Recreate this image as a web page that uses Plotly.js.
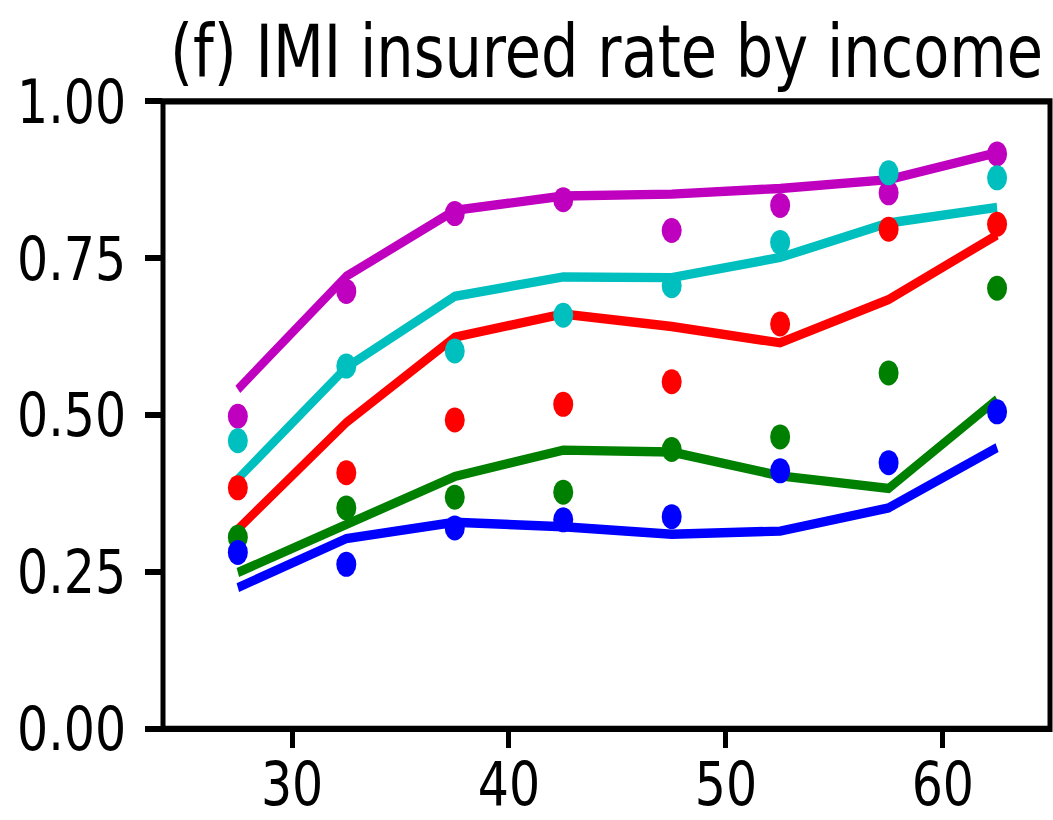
<!DOCTYPE html>
<html>
<head>
<meta charset="utf-8">
<script src="https://cdn.plot.ly/plotly-3.0.1.min.js"></script>
<style>
  html, body { margin: 0; padding: 0; background: #ffffff; overflow: hidden; width: 1053px; height: 820px; }
  #wrap { width: 1053px; height: 656px; transform: scale(1, 1.25); transform-origin: 0 0; }
  #chart { width: 1053px; height: 656px; }
</style>
</head>
<body>
<div id="wrap"><div id="chart"></div></div>
<script>
// Income bins (x)
const incomeBins = [27.5, 32.5, 37.5, 42.5, 47.5, 52.5, 57.5, 62.5];

// Model (lines)
const modelBlue    = [0.225, 0.303, 0.329, 0.322, 0.310, 0.315, 0.352, 0.448];
const modelGreen   = [0.249, 0.325, 0.402, 0.444, 0.441, 0.403, 0.383, 0.525];
const modelRed     = [0.318, 0.488, 0.624, 0.661, 0.641, 0.615, 0.684, 0.787];
const modelCyan    = [0.398, 0.576, 0.689, 0.720, 0.719, 0.751, 0.806, 0.831];
const modelMagenta = [0.541, 0.721, 0.826, 0.849, 0.852, 0.861, 0.875, 0.918];

// Data (dots)
const dataBlue    = [0.281, 0.262, 0.320, 0.333, 0.338, 0.411, 0.424, 0.505];
const dataGreen   = [0.305, 0.352, 0.369, 0.377, 0.445, 0.465, 0.567, 0.702];
const dataRed     = [0.384, 0.408, 0.492, 0.517, 0.553, 0.645, 0.796, 0.804];
const dataCyan    = [0.459, 0.578, 0.602, 0.659, 0.706, 0.775, 0.886, 0.878];
const dataMagenta = [0.498, 0.697, 0.821, 0.843, 0.794, 0.834, 0.854, 0.916];

// Tick labels
const xTickVals = [30, 40, 50, 60];
const xTickText = ['30', '40', '50', '60'];
const yTickVals = [0, 0.25, 0.5, 0.75, 1.0];
const yTickText = ['0.00', '0.25', '0.50', '0.75', '1.00'];

const titleText = '(f) IMI insured rate by income';

const colors = {blue: '#0000ff', green: '#008000', red: '#ff0000', cyan: '#00bfbf', magenta: '#bf00bf'};

const models = [
  ['blue', modelBlue], ['green', modelGreen], ['red', modelRed], ['cyan', modelCyan], ['magenta', modelMagenta]
];
const datas = [
  ['magenta', dataMagenta], ['cyan', dataCyan], ['red', dataRed], ['green', dataGreen], ['blue', dataBlue]
];

const traces = [];
models.forEach(([c, ys]) => {
  traces.push({x: incomeBins, y: ys, type: 'scatter', mode: 'lines',
    line: {color: colors[c], width: 7.5}, showlegend: false, hoverinfo: 'skip'});
});
datas.forEach(([c, ys]) => {
  traces.push({x: incomeBins, y: ys, type: 'scatter', mode: 'markers',
    marker: {color: colors[c], size: 20, line: {width: 0}}, showlegend: false, hoverinfo: 'skip'});
});

const font = 'DejaVu Sans, Verdana, sans-serif';

const layout = {
  width: 1053, height: 656,
  paper_bgcolor: '#ffffff', plot_bgcolor: '#ffffff',
  margin: {l: 162.5, r: 3, t: 80.8, b: 73.4, pad: 0},
  showlegend: false,
  title: {text: titleText, font: {family: font, size: 59, color: '#000000'},
          x: 0.5, xref: 'paper', xanchor: 'center', y: 0.9695, yref: 'container', yanchor: 'top'},
  xaxis: {range: [24.05, 64.94], tickvals: xTickVals, ticktext: xTickText,
          showgrid: false, zeroline: false, showline: false,
          ticks: 'outside', ticklen: 14, tickwidth: 5, tickcolor: '#000000',
          ticklabelstandoff: -13,
          tickfont: {family: font, size: 49, color: '#000000'}},
  yaxis: {range: [0, 1], tickvals: yTickVals, ticktext: yTickText,
          showgrid: false, zeroline: false, showline: false,
          ticks: 'outside', ticklen: 17, tickwidth: 4.5, tickcolor: '#000000',
          ticklabelstandoff: 9,
          tickfont: {family: font, size: 49, color: '#000000'}},
  shapes: [{type: 'rect', xref: 'paper', yref: 'paper', x0: 0, x1: 1, y0: 0, y1: 1,
            line: {color: '#000000', width: 5}, fillcolor: 'rgba(0,0,0,0)', layer: 'above'}]
};

Plotly.newPlot('chart', traces, layout, {displayModeBar: false, staticPlot: true});
</script>
</body>
</html>
